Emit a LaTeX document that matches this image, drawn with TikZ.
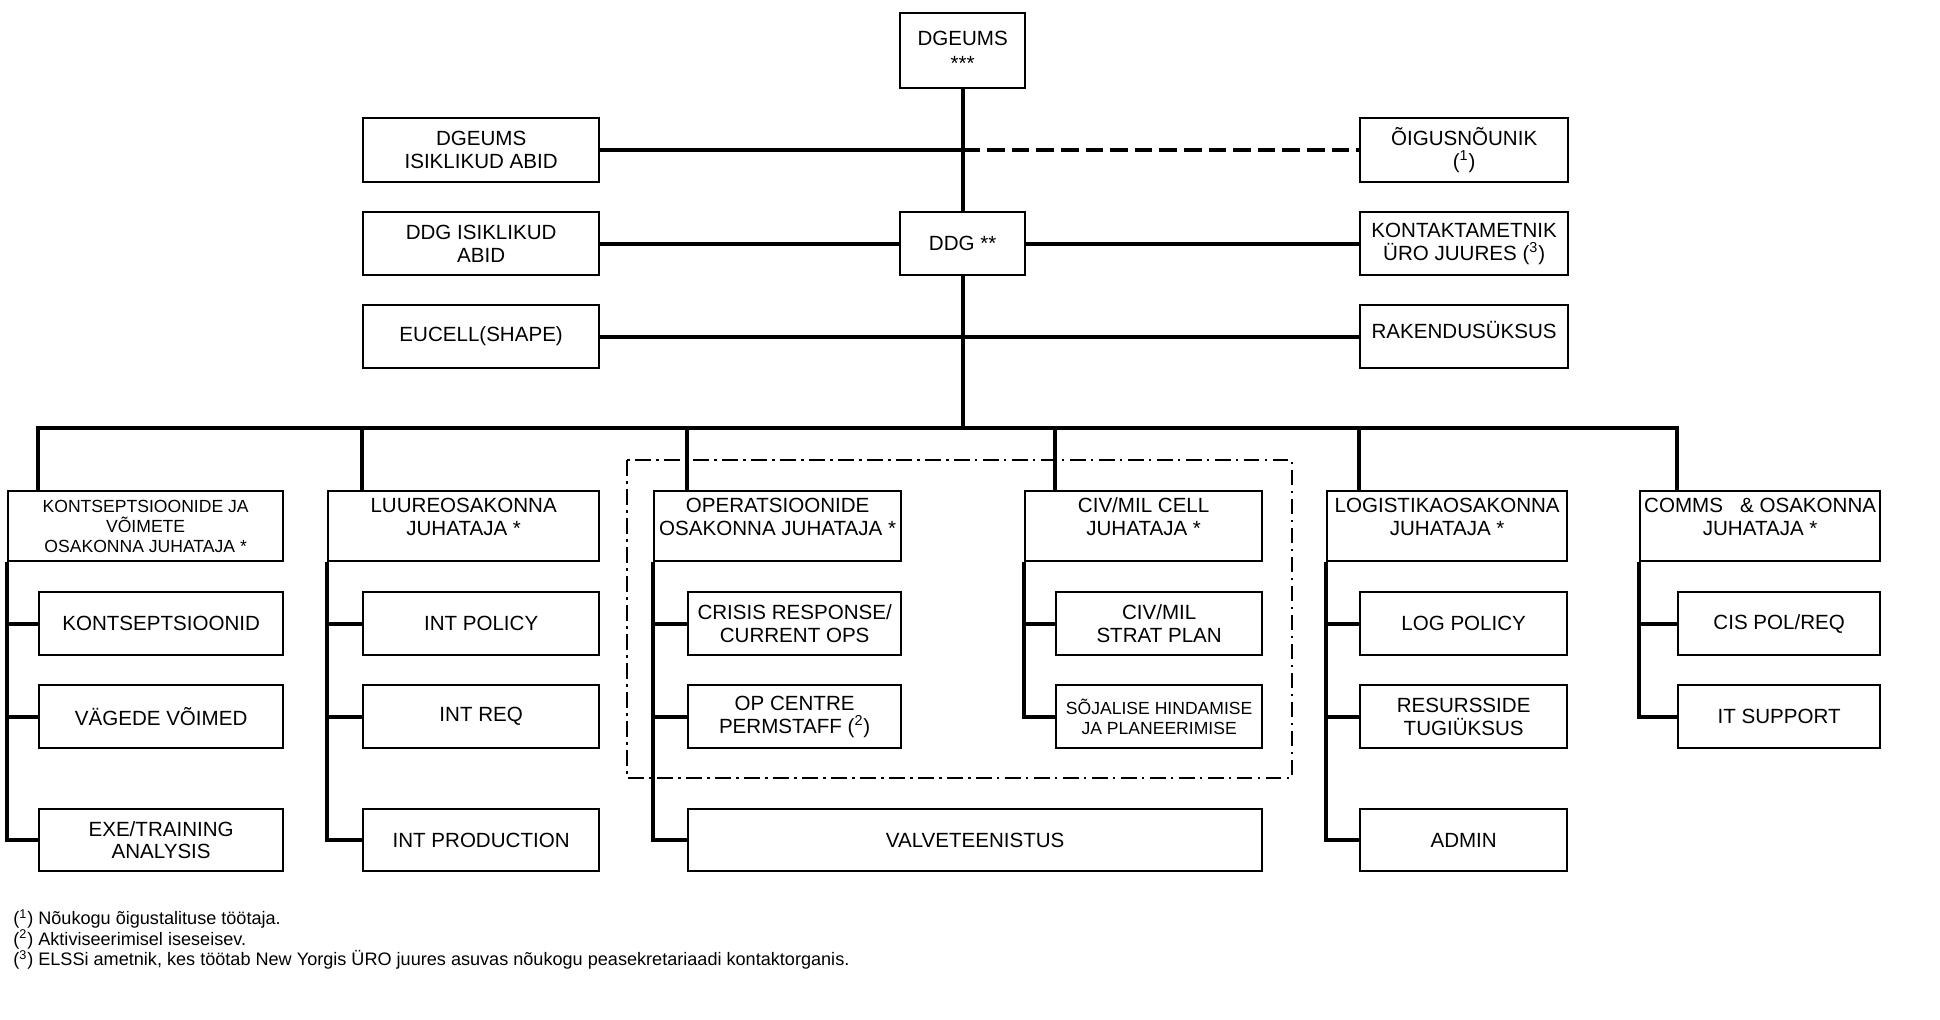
\documentclass[tikz,border=0pt]{standalone}
\usepackage{fontspec}
\setmainfont{Liberation Sans}
\newcommand\boxfont{\fontsize{11.7}{13}\selectfont}
\newcommand\smallboxfont{\fontsize{10}{11.4}\selectfont}
\newcommand\notefont{\fontsize{10.3}{11.7}\selectfont}

\begin{document}
\begin{tikzpicture}[x=0.02cm,y=-0.02cm,
   every node/.style={font=\boxfont},
   box/.style={draw,line width=1.3pt,anchor=north west,inner sep=0pt,align=center},
   wd/.style={minimum width=#1*0.02cm},
   ht/.style={minimum height=#1*0.02cm},
   link/.style={line width=2.4pt},
   optional/.style={line width=2pt,dash pattern=on 10pt off 4pt},
   cellframe/.style={line width=1pt,dash pattern=on 9pt off 3pt on 1.5pt off 3pt}]
  \useasboundingbox (0,0) rectangle (1940,1020);

  % leadership
  \node[box,wd=125,ht=75] (dgeums) at (899,12) {DGEUMS\\[1pt]***};
  \node[box,wd=236,ht=64] (dgAbid) at (362,117) {DGEUMS\\ISIKLIKUD ABID};
  \node[box,wd=208,ht=64] (oigus) at (1359,117) {ÕIGUSNÕUNIK\\(\textsuperscript{1})};
  \node[box,wd=236,ht=63] (ddgAbid) at (362,211) {DDG ISIKLIKUD\\ABID};
  \node[box,wd=125,ht=63] (ddg) at (899,211) {DDG **};
  \node[box,wd=208,ht=63] (kontakt) at (1359,211) {KONTAKTAMETNIK\\ÜRO JUURES (\textsuperscript{3})};
  \node[box,wd=236,ht=63] (eucell) at (362,304) {EUCELL(SHAPE)};
  \node[box,wd=208,ht=63] (rakendus) at (1359,304) {\raisebox{8pt}{RAKENDUSÜKSUS}};
  \coordinate (bus) at (960,428);

  % division heads
  \node[box,wd=275,ht=70,font=\smallboxfont] (kontHead) at (7,490)
    {KONTSEPTSIOONIDE JA\\VÕIMETE\\OSAKONNA JUHATAJA *};
  \node[box,wd=271,ht=70] (luureHead) at (327,490) {LUUREOSAKONNA\\JUHATAJA *\\[-6pt]\strut};
  \node[box,wd=247,ht=70] (opsHead) at (653,490) {OPERATSIOONIDE\\OSAKONNA JUHATAJA *\\[-6pt]\strut};
  \node[box,wd=237,ht=70] (civHead) at (1024,490) {CIV/MIL CELL\\JUHATAJA *\\[-6pt]\strut};
  \node[box,wd=240,ht=70] (logHead) at (1326,490) {LOGISTIKAOSAKONNA\\JUHATAJA *\\[-6pt]\strut};
  \node[box,wd=240,ht=70] (commsHead) at (1639,490) {COMMS\ \ \ \& OSAKONNA\\JUHATAJA *\\[-6pt]\strut};

  % sections
  \node[box,wd=244,ht=63] (kontA) at (38,591) {KONTSEPTSIOONID};
  \node[box,wd=244,ht=63] (kontB) at (38,684) {VÄGEDE VÕIMED};
  \node[box,wd=244,ht=62] (kontC) at (38,808) {EXE/TRAINING\\ANALYSIS};
  \node[box,wd=236,ht=63] (luureA) at (362,591) {INT POLICY};
  \node[box,wd=236,ht=63] (luureB) at (362,684) {INT REQ};
  \node[box,wd=236,ht=62] (luureC) at (362,808) {INT PRODUCTION};
  \node[box,wd=213,ht=63] (opsA) at (687,591) {CRISIS RESPONSE/\\CURRENT OPS};
  \node[box,wd=213,ht=63] (opsB) at (687,684) {OP CENTRE\\PERMSTAFF (\textsuperscript{2})};
  \node[box,wd=574,ht=62] (valve) at (687,808) {VALVETEENISTUS};
  \node[box,wd=206,ht=63] (civA) at (1055,591) {CIV/MIL\\STRAT PLAN};
  \node[box,wd=206,ht=63,font=\smallboxfont] (civB) at (1055,684)
    {SÕJALISE HINDAMISE\\JA PLANEERIMISE};
  \node[box,wd=207,ht=63] (logA) at (1359,591) {LOG POLICY};
  \node[box,wd=207,ht=63] (logB) at (1359,684) {RESURSSIDE\\TUGIÜKSUS};
  \node[box,wd=207,ht=62] (logC) at (1359,808) {ADMIN};
  \node[box,wd=202,ht=63] (commsA) at (1677,591) {CIS POL/REQ};
  \node[box,wd=202,ht=63] (commsB) at (1677,684) {IT SUPPORT};

  % footnotes
  \node[anchor=north west,inner sep=0pt,align=left,font=\notefont] (notes) at (13,909)
    {(\textsuperscript{1}) Nõukogu õigustalituse töötaja.\\
     (\textsuperscript{2}) Aktiviseerimisel iseseisev.\\
     (\textsuperscript{3}) ELSSi ametnik, kes töötab New Yorgis ÜRO juures asuvas nõukogu peasekretariaadi kontaktorganis.};

  % trunk and staff
  \draw[link] (dgeums) -- (ddg);
  \draw[link] (ddg.south) -- (ddg.south |- bus);
  \draw[link] (dgAbid) -- (dgAbid -| dgeums.south);
  \draw[optional] (oigus -| dgeums.south) -- (oigus);
  \draw[link] (ddgAbid) -- (ddg);
  \draw[link] (ddg) -- (kontakt);
  \draw[link] (eucell) -- (rakendus);

  % bus to division heads
  \draw[link] (kontHead.north -| kontA.west) -- (bus -| kontA.west)
    -- (bus -| commsA.west) -- (commsHead.north -| commsA.west);
  \foreach \h/\s in {luureHead/luureA,opsHead/opsA,civHead/civA,logHead/logA}
    \draw[link] (bus -| \s.west) -- (\h.north -| \s.west);

  % heads to sections
  \foreach \h/\last/\subs in {kontHead/kontC/{kontA,kontB},luureHead/luureC/{luureA,luureB},
      opsHead/valve/{opsA,opsB},civHead/civB/{civA},logHead/logC/{logA,logB},
      commsHead/commsB/{commsA}} {
    \draw[link] (\h.south west) |- (\last.west);
    \foreach \s in \subs
      \draw[link] (\h.south west |- \s.west) -- (\s.west);
  }

  % crisis management cell
  \draw[cellframe] (627,460) rectangle (1292,778);
\end{tikzpicture}
\end{document}
